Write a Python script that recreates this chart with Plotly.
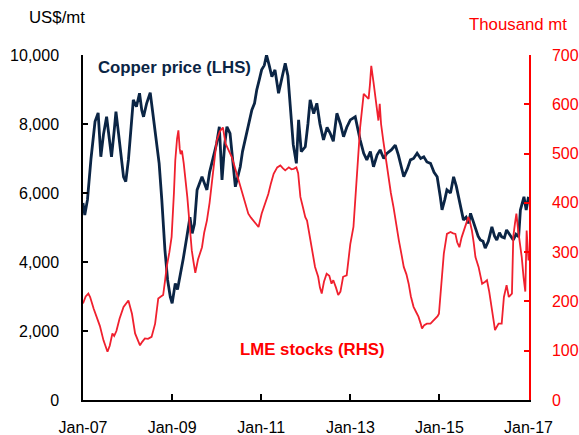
import pandas as pd
import plotly.graph_objects as go

# Copper price (US$/mt) — time as decimal year
copper_t = [2007.00, 2007.04, 2007.10, 2007.18, 2007.27, 2007.34, 2007.40, 2007.46, 2007.53, 2007.58,
            2007.64, 2007.70, 2007.74, 2007.80, 2007.86, 2007.91, 2007.96, 2008.02, 2008.08, 2008.13,
            2008.20, 2008.27, 2008.32, 2008.36, 2008.43, 2008.51, 2008.56, 2008.62, 2008.71, 2008.77,
            2008.84, 2008.90, 2008.96, 2009.00, 2009.07, 2009.12, 2009.18, 2009.25, 2009.33, 2009.40,
            2009.45, 2009.50, 2009.56, 2009.62, 2009.67, 2009.72, 2009.78, 2009.84, 2009.89, 2009.95,
            2010.00, 2010.06, 2010.12, 2010.18, 2010.23, 2010.30, 2010.36, 2010.42, 2010.48, 2010.53,
            2010.58, 2010.64, 2010.72, 2010.79, 2010.85, 2010.90, 2010.96, 2011.01, 2011.07, 2011.12,
            2011.18, 2011.24, 2011.31, 2011.39, 2011.46, 2011.54, 2011.60, 2011.65, 2011.72, 2011.79,
            2011.84, 2011.90, 2011.99, 2012.05, 2012.10, 2012.18, 2012.25, 2012.32, 2012.40, 2012.48,
            2012.55, 2012.62, 2012.70, 2012.78, 2012.85, 2012.92, 2013.00, 2013.11, 2013.17, 2013.22,
            2013.30, 2013.37, 2013.45, 2013.52, 2013.60, 2013.67, 2013.75, 2013.82, 2013.92, 2014.01,
            2014.08, 2014.15, 2014.20, 2014.28, 2014.35, 2014.42, 2014.50, 2014.58, 2014.65, 2014.72,
            2014.80, 2014.88, 2014.95, 2015.02, 2015.06, 2015.12, 2015.17, 2015.25, 2015.32, 2015.38,
            2015.43, 2015.50, 2015.54, 2015.60, 2015.66, 2015.70, 2015.75, 2015.81, 2015.87, 2015.92,
            2015.98, 2016.03, 2016.10, 2016.18, 2016.24, 2016.29, 2016.35, 2016.40, 2016.46, 2016.51,
            2016.58, 2016.66, 2016.72, 2016.78, 2016.82, 2016.86, 2016.90, 2016.95, 2017.00]
copper_price = [5710, 5360, 5800, 7000, 8070, 8320, 7050, 7700, 8210, 7600,
                7050, 7800, 8360, 7700, 7100, 6470, 6330, 6960, 7900, 8700,
                8500, 8890, 8400, 8210, 8600, 8910, 8400, 7730, 6860, 5800,
                4350, 3480, 2990, 2800, 3380, 3200, 3570, 4100, 4730, 5300,
                4830, 5100, 6090, 6300, 6470, 6300, 6090, 6600, 6860, 7100,
                7440, 7920, 6380, 7400, 7920, 7730, 6900, 6180, 6500, 6760,
                7200, 7540, 8000, 8410, 8600, 8990, 9300, 9570, 9700, 10000,
                9700, 9370, 9570, 8890, 9300, 9760, 9400, 8600, 7400, 6860,
                8120, 7200, 7340, 8000, 8700, 8300, 8600, 8000, 7540, 7900,
                7730, 7500, 8310, 8000, 7630, 7900, 8120, 8210, 7800, 7540,
                7150, 6960, 7200, 6760, 7100, 7250, 7000, 7150, 7250, 7390,
                7100, 6700, 6470, 6700, 6960, 7000, 7150, 7000, 7050, 6900,
                6860, 6600, 6470, 5900, 5510, 5800, 6090, 6000, 6470, 6200,
                5890, 5500, 5220, 5300, 5120, 5410, 5200, 4930, 4750, 4640,
                4600, 4400, 4600, 5020, 4750, 4640, 4850, 4730, 4700, 4930,
                4800, 4640, 4800, 4730, 5510, 5700, 5890, 5510, 5890]

# LME stocks (thousand mt)
stocks_t = [2007.00, 2007.06, 2007.12, 2007.16, 2007.24, 2007.31, 2007.38, 2007.46, 2007.55, 2007.60,
            2007.66, 2007.70, 2007.75, 2007.82, 2007.91, 2008.02, 2008.06, 2008.10, 2008.17, 2008.23,
            2008.28, 2008.33, 2008.39, 2008.46, 2008.54, 2008.62, 2008.67, 2008.69, 2008.75, 2008.80,
            2008.84, 2008.88, 2008.94, 2008.99, 2009.04, 2009.07, 2009.11, 2009.14, 2009.17, 2009.19,
            2009.22, 2009.26, 2009.34, 2009.39, 2009.44, 2009.48, 2009.52, 2009.58, 2009.67, 2009.72,
            2009.78, 2009.84, 2009.89, 2009.95, 2010.00, 2010.07, 2010.14, 2010.20, 2010.28, 2010.34,
            2010.40, 2010.45, 2010.51, 2010.57, 2010.64, 2010.71, 2010.77, 2010.83, 2010.90, 2010.94,
            2011.01, 2011.08, 2011.16, 2011.22, 2011.28, 2011.36, 2011.43, 2011.49, 2011.54, 2011.62,
            2011.68, 2011.73, 2011.79, 2011.83, 2011.88, 2011.94, 2011.99, 2012.03, 2012.08, 2012.14,
            2012.21, 2012.28, 2012.32, 2012.36, 2012.41, 2012.47, 2012.53, 2012.58, 2012.62, 2012.68,
            2012.73, 2012.78, 2012.84, 2012.92, 2012.96, 2013.00, 2013.07, 2013.10, 2013.15, 2013.22,
            2013.30, 2013.36, 2013.41, 2013.44, 2013.47, 2013.52, 2013.56, 2013.60, 2013.63, 2013.66,
            2013.69, 2013.74, 2013.80, 2013.85, 2013.91, 2013.97, 2014.03, 2014.09, 2014.15, 2014.20,
            2014.26, 2014.31, 2014.36, 2014.42, 2014.48, 2014.53, 2014.58, 2014.61, 2014.66, 2014.72,
            2014.80, 2014.86, 2014.91, 2014.96, 2014.99, 2015.04, 2015.10, 2015.17, 2015.25, 2015.31,
            2015.36, 2015.40, 2015.45, 2015.50, 2015.54, 2015.60, 2015.65, 2015.69, 2015.73, 2015.77,
            2015.81, 2015.88, 2015.96, 2016.03, 2016.07, 2016.12, 2016.18, 2016.22, 2016.25, 2016.30,
            2016.33, 2016.40, 2016.45, 2016.51, 2016.56, 2016.63, 2016.66, 2016.70, 2016.73, 2016.77,
            2016.81, 2016.85, 2016.89, 2016.93, 2016.96, 2016.98, 2017.00]
lme_stocks = [196, 210, 216, 209, 185, 169, 150, 121, 98, 110,
              135, 130, 140, 165, 189, 202, 190, 175, 135, 120,
              111, 118, 125, 124, 128, 155, 195, 206, 210, 213,
              240, 270, 300, 331, 420, 486, 530, 547, 510, 499,
              506, 480, 412, 350, 304, 280, 258, 285, 310, 340,
              364, 400, 439, 485, 526, 545, 553, 520, 505, 493,
              475, 459, 440, 418, 395, 378, 370, 364, 355, 351,
              378, 395, 418, 440, 459, 472, 476, 470, 466, 472,
              468, 469, 472, 460, 412, 390, 371, 364, 340, 305,
              270, 250, 228, 216, 240, 256, 252, 236, 243, 228,
              213, 220, 250, 253, 290, 317, 351, 390, 472, 553,
              621, 615, 611, 640, 678, 645, 614, 590, 567, 601,
              560, 526, 490, 452, 420, 391, 355, 324, 295, 270,
              255, 236, 210, 189, 178, 169, 155, 145, 152, 155,
              155, 160, 165, 170, 175, 223, 297, 337, 341, 338,
              337, 320, 310, 330, 341, 355, 371, 360, 344, 320,
              290, 270, 236, 240, 243, 220, 189, 160, 142, 150,
              155, 155, 209, 233, 209, 216, 331, 360, 378, 344,
              320, 290, 250, 220, 344, 310, 283]

tick_years = [2007, 2009, 2011, 2013, 2015, 2017]
tick_labels = ["Jan-07", "Jan-09", "Jan-11", "Jan-13", "Jan-15", "Jan-17"]


def to_date(t):
    y = int(t)
    start = pd.Timestamp(year=y, month=1, day=1)
    return start + pd.Timedelta(days=(t - y) * 365.25)


copper_x = [to_date(t) for t in copper_t]
stocks_x = [to_date(t) for t in stocks_t]
tick_x = [pd.Timestamp(year=y, month=1, day=1) for y in tick_years]

NAVY = "#0b2545"
RED = "#ff0000"
LINE_RED = "#f0202e"
FONT = "Liberation Sans, Arial, sans-serif"
TICK_FS = 16
TEXT_FS = 16.8

fig = go.Figure()
fig.add_trace(go.Scatter(x=copper_x, y=copper_price, mode="lines",
                         line=dict(color=NAVY, width=2.8), name="Copper price (LHS)"))
fig.add_trace(go.Scatter(x=stocks_x, y=lme_stocks, mode="lines", yaxis="y2",
                         line=dict(color=LINE_RED, width=1.8), name="LME stocks (RHS)"))

fig.update_layout(
    width=579, height=435,
    margin=dict(l=83, r=50, t=55, b=35, autoexpand=False),
    paper_bgcolor="white", plot_bgcolor="white",
    showlegend=False,
    font=dict(family=FONT, size=TICK_FS, color="black"),
    xaxis=dict(
        range=[pd.Timestamp("2007-01-01"), pd.Timestamp("2017-01-05")],
        tickvals=tick_x, ticktext=tick_labels, automargin=False,
        showgrid=False, zeroline=False,
        showline=True, linecolor="black", linewidth=1.5,
        ticks="inside", ticklen=6, tickcolor="black", tickwidth=1.5,
        ticklabelstandoff=12,
        tickfont=dict(family=FONT, size=TICK_FS, color="black"),
    ),
    yaxis=dict(
        range=[0, 10000], tickvals=[0, 2000, 4000, 6000, 8000, 10000],
        tickformat=",", showgrid=False, zeroline=False, automargin=False,
        showline=True, linecolor="black", linewidth=1.5,
        ticks="inside", ticklen=5, tickcolor="black", tickwidth=1.5,
        ticklabelstandoff=19,
        tickfont=dict(family=FONT, size=TICK_FS, color="black"),
    ),
    yaxis2=dict(
        range=[0, 700], tickvals=[0, 100, 200, 300, 400, 500, 600, 700],
        overlaying="y", side="right", anchor="x", automargin=False,
        showgrid=False, zeroline=False,
        showline=True, linecolor=RED, linewidth=1.5,
        ticks="inside", ticklen=5, tickcolor=RED, tickwidth=1.5,
        ticklabelstandoff=18,
        tickfont=dict(family=FONT, size=TICK_FS, color=RED),
    ),
    annotations=[
        dict(text="US$/mt", xref="paper", yref="paper", x=-0.125, y=1.11,
             xanchor="left", yanchor="middle", showarrow=False,
             font=dict(family=FONT, size=TEXT_FS, color="black")),
        dict(text="Thousand mt", xref="paper", yref="paper", x=0.861, y=1.087,
             xanchor="left", yanchor="middle", showarrow=False,
             font=dict(family=FONT, size=TEXT_FS, color=RED)),
        dict(text="<b>Copper price (LHS)</b>", xref="paper", yref="paper", x=0.029, y=0.965,
             xanchor="left", yanchor="middle", showarrow=False,
             font=dict(family=FONT, size=TEXT_FS, color=NAVY)),
        dict(text="<b>LME stocks (RHS)</b>", xref="paper", yref="paper", x=0.3475, y=0.145,
             xanchor="left", yanchor="middle", showarrow=False,
             font=dict(family=FONT, size=TEXT_FS, color=RED)),
    ],
)

fig.write_html("out.html", config={"displayModeBar": False},
               post_script="document.body.style.margin='0px';")
